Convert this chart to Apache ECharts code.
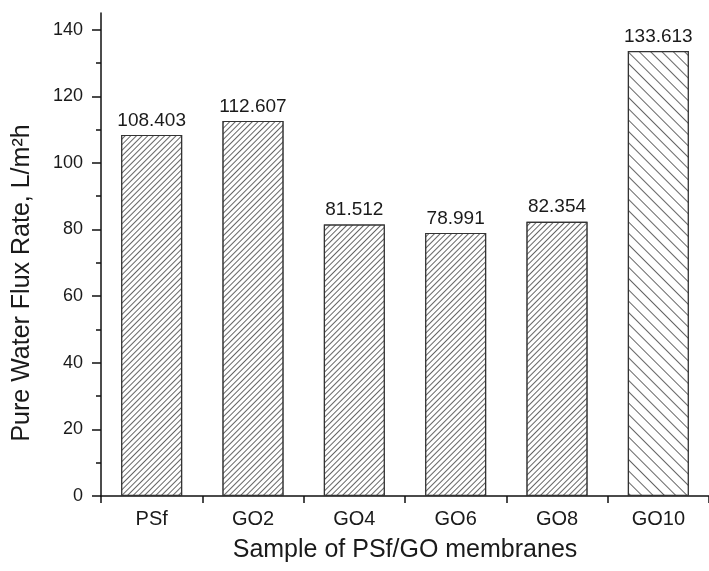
<!DOCTYPE html>
<html><head><meta charset="utf-8">
<script src="https://cdn.jsdelivr.net/npm/echarts@6/dist/echarts.min.js"></script>
<style>html,body{margin:0;padding:0;background:#fff}#c{width:709px;height:571px}</style>
</head><body><div id="c"></div>
<script>
// ---- data ----
const categories = ['PSf', 'GO2', 'GO4', 'GO6', 'GO8', 'GO10'];
const fluxValues = [108.403, 112.607, 81.512, 78.991, 82.354, 133.613];
const hatchKinds = ['fine', 'fine', 'fine', 'fine', 'fine', 'wide'];
const yTickMin = 0, yTickMax = 140, yTickStep = 20;
const yAxisTop = 145;
const xTitle = 'Sample of PSf/GO membranes';
const yTitle = 'Pure Water Flux Rate, L/m\u00B2h';

// ---- layout / style ----
const FONT = '"Liberation Sans", Arial, sans-serif';
const TXT = '#1a1a1a';
const AX = '#111';
const plotLeft = 101, plotTop = 13, plotBottom = 75, plotWidth = 612;
const plotH = 571 - plotTop - plotBottom;
const labelGridTop = plotTop + plotH * (yAxisTop - yTickMax) / yAxisTop;

const decals = {
  fine: { symbol: 'rect', symbolSize: 1, dashArrayX: [1, 0], dashArrayY: [1, 3], rotation: -Math.PI / 4, color: '#666', backgroundColor: '#fff' },
  wide: { symbol: 'rect', symbolSize: 1, dashArrayX: [1, 0], dashArrayY: [1, 7], rotation: Math.PI / 4, color: '#666', backgroundColor: '#fff' }
};

const chart = echarts.init(document.getElementById('c'), null, { renderer: 'canvas' });
chart.setOption({
  animation: false,
  backgroundColor: '#fff',
  textStyle: { fontFamily: FONT, color: TXT },
  grid: [
    { left: plotLeft, top: plotTop, width: plotWidth, bottom: plotBottom },
    { left: plotLeft, top: labelGridTop, width: plotWidth, bottom: plotBottom }
  ],
  xAxis: [
    {
      type: 'category', gridIndex: 0, data: categories,
      axisLine: { lineStyle: { color: AX, width: 1.5 } },
      axisTick: { alignWithLabel: true, length: 7, lineStyle: { color: AX, width: 1.5 } },
      axisLabel: { fontSize: 20, margin: 13, color: TXT, fontFamily: FONT },
      name: xTitle, nameLocation: 'middle', nameGap: 42,
      nameTextStyle: { fontSize: 25, color: TXT, fontFamily: FONT }
    },
    {
      type: 'category', gridIndex: 0, data: categories, position: 'bottom',
      axisLine: { show: false },
      axisTick: { show: true, interval: 0, length: 7, lineStyle: { color: AX, width: 1.5 } },
      axisLabel: { show: false }
    },
    { type: 'category', gridIndex: 1, data: categories, show: false }
  ],
  yAxis: [
    {
      type: 'value', gridIndex: 0, min: yTickMin, max: yAxisTop,
      axisLine: { show: true, lineStyle: { color: AX, width: 1.5 } },
      axisTick: { show: false }, axisLabel: { show: false }, splitLine: { show: false }
    },
    {
      type: 'value', gridIndex: 1, min: yTickMin, max: yTickMax, interval: yTickStep,
      axisLine: { show: false },
      axisTick: { show: true, length: 9, lineStyle: { color: AX, width: 1.5 } },
      minorTick: { show: true, splitNumber: 2, length: 5, lineStyle: { color: AX, width: 1.5 } },
      axisLabel: { fontSize: 18, margin: 18, color: TXT, fontFamily: FONT },
      splitLine: { show: false }
    }
  ],
  graphic: [{
    type: 'text', x: 22, y: 283, rotation: Math.PI / 2,
    style: { text: yTitle, font: '25px ' + FONT, fill: TXT, align: 'center', verticalAlign: 'middle' }
  }],
  series: [{
    type: 'bar', xAxisIndex: 0, yAxisIndex: 0, barWidth: 61,
    data: fluxValues.map((v, i) => ({ value: v, itemStyle: { decal: decals[hatchKinds[i]] } })),
    itemStyle: { color: '#fff', borderColor: '#333', borderWidth: 1.2 },
    label: {
      show: true, position: 'top', distance: 5, fontSize: 19, color: TXT, fontFamily: FONT,
      formatter: p => p.value.toFixed(3)
    }
  }]
});
</script></body></html>
